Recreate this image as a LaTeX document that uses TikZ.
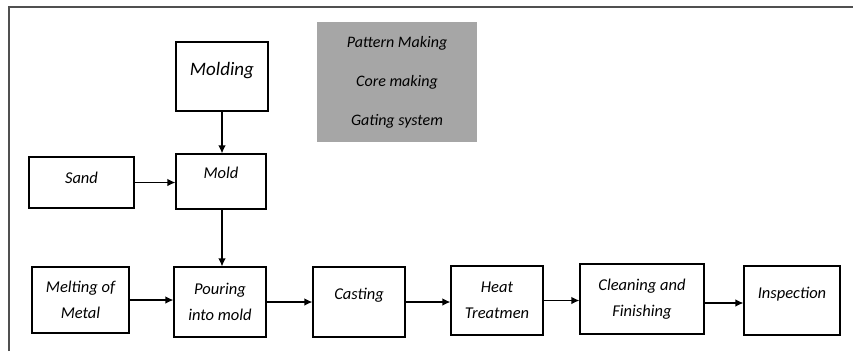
\documentclass[tikz,border=0pt]{standalone}
\usepackage{fontspec}
\setmainfont{Carlito}
\usetikzlibrary{arrows.meta}
\tikzset{
  box/.style={draw=black, line width=1.2pt, fill=white, inner sep=0pt, align=center,
    font=\fontsize{16.5}{26.5}\selectfont\itshape},
  up/.style={text height=11pt, text depth=#1},
  arr/.style={line width=1.2pt, -{Latex[length=8pt,width=7.5pt]}},
  frame/.style={draw={rgb,255:red,80;green,80;blue,80}, line width=2pt},
  graybox/.style={fill={rgb,255:red,166;green,166;blue,166}, inner sep=0pt, align=center,
    font=\fontsize{16}{39}\selectfont\itshape}
}
\begin{document}
\begin{tikzpicture}[x=1pt, y=-1pt]
\useasboundingbox (0,0) rectangle (853,351);
\draw[frame] (9,351) -- (9,7) -- (853,7);

\node[graybox, minimum width=160pt, minimum height=120pt] (gray) at (397,82)
  {Pattern Making\\Core making\\Gating system};

\node[box, minimum width=92pt, minimum height=69pt, up=13pt, font=\fontsize{19}{26}\selectfont\itshape] (molding) at (222,76.5) {Molding};
\node[box, minimum width=90pt, minimum height=55pt, up=17pt] (mold) at (221,181.5) {Mold};
\node[box, minimum width=105pt, minimum height=51pt, up=10pt] (sand) at (81.5,182.5) {Sand};

\node[box, minimum width=97pt, minimum height=66pt] (melt) at (80.5,300) {Melting of\\Metal};
\node[box, minimum width=92pt, minimum height=70pt] (pour) at (220,302) {Pouring\\into mold};
\node[box, minimum width=92pt, minimum height=70pt, up=16pt] (cast) at (359,302) {Casting};
\node[box, minimum width=92pt, minimum height=69pt] (heat) at (497,300.5) {Heat\\Treatmen};
\node[box, minimum width=124pt, minimum height=70pt] (clean) at (642,299) {Cleaning and\\Finishing};
\node[box, minimum width=96pt, minimum height=69pt, up=15pt] (insp) at (792,300.5) {Inspection};

\draw[arr] (molding.south) -- (molding.south |- mold.north);
\draw[arr] (sand.east) -- (sand.east -| mold.west);
\draw[arr] ([xshift=1pt]mold.south) -- ([xshift=1pt]mold.south |- pour.north);
\draw[arr] (melt.east) -- (melt.east -| pour.west);
\draw[arr] (pour.east) -- (pour.east -| cast.west);
\draw[arr] (cast.east) -- (cast.east -| heat.west);
\draw[arr] (heat.east) -- (heat.east -| clean.west);
\draw[arr] ([yshift=-4pt]clean.east) -- ([yshift=-4pt]clean.east -| insp.west);
\end{tikzpicture}
\end{document}
